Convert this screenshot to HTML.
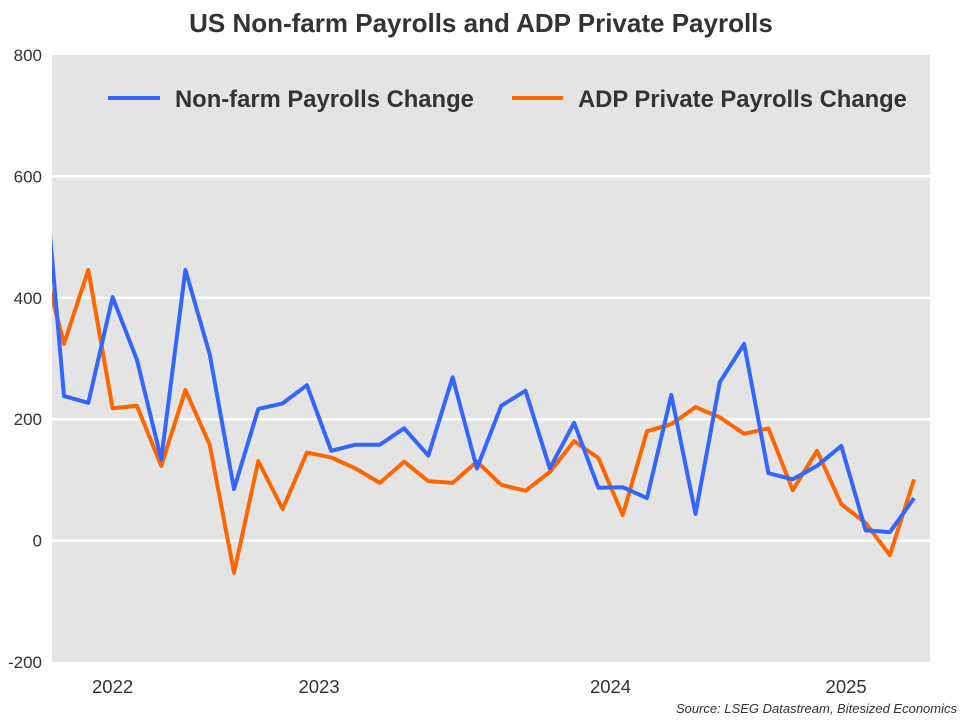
<!DOCTYPE html>
<html><head><meta charset="utf-8"><style>
body{margin:0;background:#fff;width:960px;height:720px;overflow:hidden;font-family:"Liberation Sans",sans-serif}
</style></head><body>
<svg id="chart" width="960" height="720" xmlns="http://www.w3.org/2000/svg">
<defs><clipPath id="pc"><rect x="52" y="55" width="878" height="607"/></clipPath></defs>
<text x="481" y="32" text-anchor="middle" font-size="26" font-weight="bold" fill="#333">US Non-farm Payrolls and ADP Private Payrolls</text>
<rect x="52" y="55" width="878" height="607" fill="#e4e4e4"/>
<g id="grid"></g><g id="yticks"></g><g id="xticks"></g>
<g id="series" clip-path="url(#pc)"></g>
<g>
<line x1="108" y1="98" x2="160" y2="98" stroke="#3366ff" stroke-width="4"/>
<text x="175" y="107" font-size="23.8" font-weight="bold" fill="#333">Non-farm Payrolls Change</text>
<line x1="512" y1="98" x2="563" y2="98" stroke="#ff6600" stroke-width="4"/>
<text x="578" y="107" font-size="23.8" font-weight="bold" fill="#333">ADP Private Payrolls Change</text>
</g>
<text x="957" y="713" text-anchor="end" font-size="13" font-style="italic" fill="#333">Source: LSEG Datastream, Bitesized Economics</text>
</svg>
<script>
const nfp=[700,238,227,401,298,134,446,307,85,217,226,256,148,158,158,185,140,269,119,222,247,119,194,87,88,70,240,44,261,324,111,101,123,156,17,14,70];
const adp=[480,324,446,218,222,123,248,158,-53,131,52,145,137,119,95,130,98,95,130,92,82,113,164,136,42,180,192,220,203,176,185,83,148,60,29,-24,101];
const yTicks=[-200,0,200,400,600,800];
const yearLabels=["2022","2023","2024","2025"];
const yearLabelIdx=[3.0,11.5,23.5,33.2];
const yearTickIdx=[5.55,17.55,29.6];
const NS="http://www.w3.org/2000/svg";
function X(i){return 64+24.29*(i-1);}
function Y(v){return 540.6-v*0.607;}
function mk(tag,attrs,parent){const e=document.createElementNS(NS,tag);for(const k in attrs)e.setAttribute(k,attrs[k]);document.getElementById(parent).appendChild(e);return e;}
yTicks.forEach(v=>{
 if(v>-200&&v<800){const l=mk('line',{x1:52,x2:930,y1:Y(v),y2:Y(v),stroke:'#fff','stroke-width':2.5},'grid');
 
 }
 const t=mk('text',{x:42,y:Y(v)+6,'text-anchor':'end','font-size':17,fill:'#333'},'yticks');
 
 
 t.textContent=v;
});
yearTickIdx.forEach(i=>{
 const l=mk('line',{x1:X(i),x2:X(i),y1:662,y2:668,stroke:'#fff','stroke-width':1.5},'xticks');
 
 
});
yearLabels.forEach((s,j)=>{
 const t=mk('text',{x:X(yearLabelIdx[j]),y:693,'text-anchor':'middle','font-size':18.5,fill:'#333'},'xticks');
 
 
 t.textContent=s;
});
function line(arr,color,name){
 const d=arr.map((v,i)=>(i?'L':'M')+X(i).toFixed(1)+' '+Y(v).toFixed(1)).join(' ');
 const p=mk('path',{d:d,fill:'none',stroke:color,'stroke-width':4,'stroke-linejoin':'round'},'series');
 
 
}
line(adp,'#ff6600','adp-line');
line(nfp,'#3366ff','nfp-line');
</script>
</body></html>
